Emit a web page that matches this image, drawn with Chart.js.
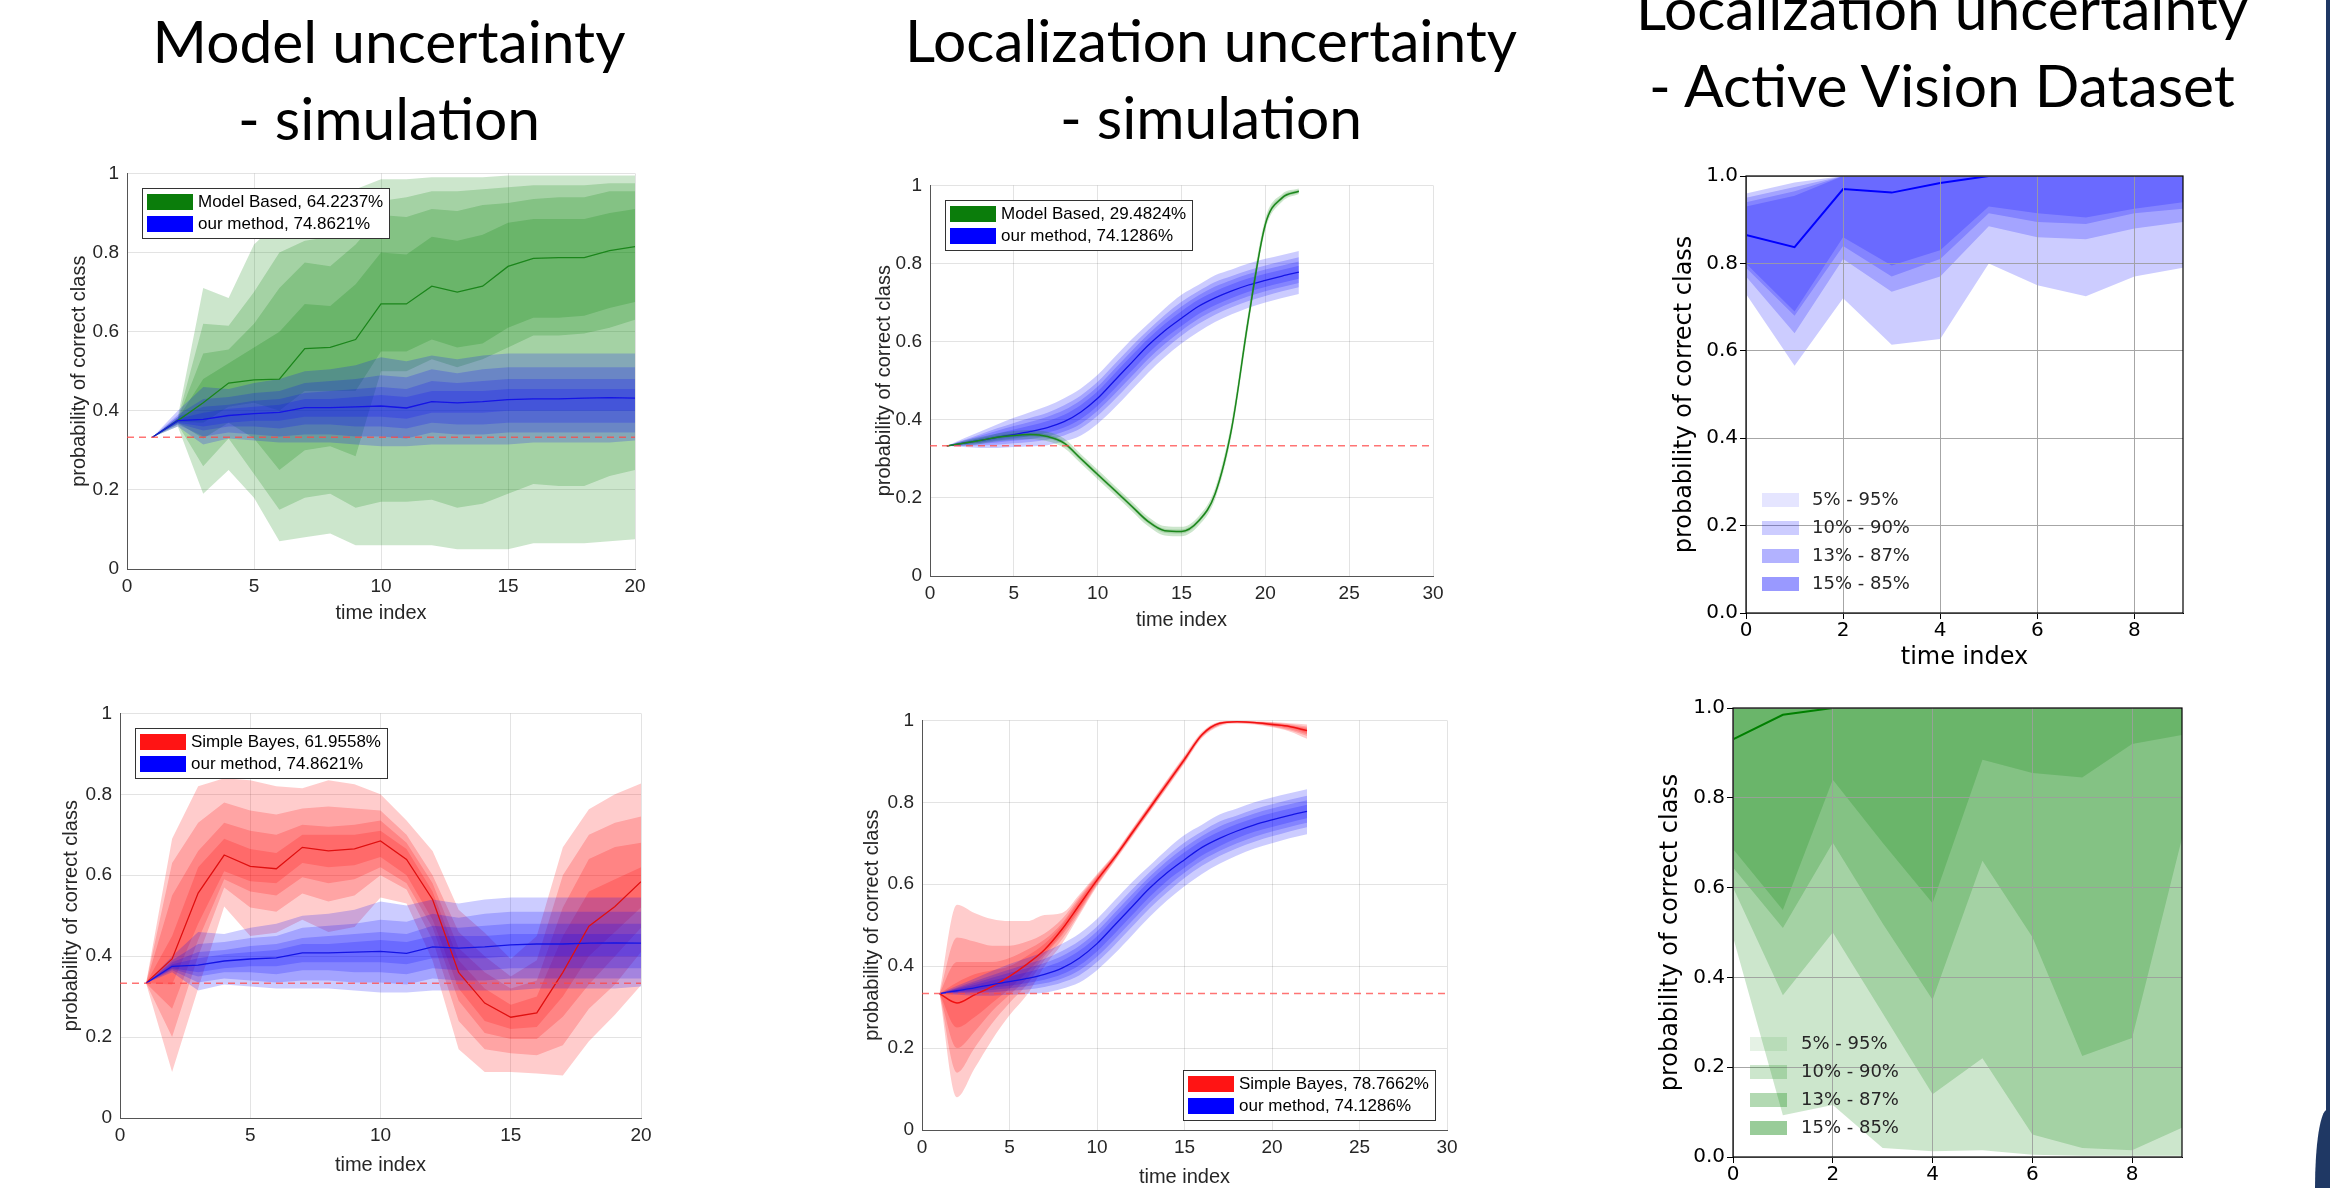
<!DOCTYPE html>
<html lang="en">
<head>
<meta charset="UTF-8">
<title>Uncertainty fan charts</title>
<script src="https://cdn.jsdelivr.net/npm/chart.js"></script>
<style>
  html, body { margin: 0; padding: 0; background: #fff; }
  body { position: relative; width: 2330px; height: 1188px; overflow: hidden; }
  canvas { position: absolute; }
  .ttl { position: absolute; font-family: Lato, 'Liberation Sans', sans-serif; color: #000;
         text-align: center; white-space: nowrap; transform: translateX(-50%); }
  .navy { position: absolute; background: #1f3864; }
</style>
</head>
<body>
<canvas id="c1"></canvas>
<canvas id="c2"></canvas>
<canvas id="c3"></canvas>
<canvas id="c4"></canvas>
<canvas id="c5"></canvas>
<canvas id="c6"></canvas>
<div class="navy" style="left:2326px; top:0; width:4px; height:1188px;"></div>
<div class="navy" style="left:2315px; top:1110px; width:20px; height:90px; border-top-left-radius:12px 78px;"></div>
<script>
// ---- text ----
const panelTitles = [
  ['Model uncertainty', '- simulation'],
  ['Localization uncertainty', '- simulation'],
  ['Localization uncertainty', '- Active Vision Dataset']
];
const legendMu1 = ['Model Based, 64.2237%', 'our method, 74.8621%'];
const legendMu2 = ['Simple Bayes, 61.9558%', 'our method, 74.8621%'];
const legendLoc1 = ['Model Based, 29.4824%', 'our method, 74.1286%'];
const legendLoc2 = ['Simple Bayes, 78.7662%', 'our method, 74.1286%'];
const bandLabels = ['5% - 95%', '10% - 90%', '13% - 87%', '15% - 85%'];

// ---- axes ----
const xTicksMu = [0, 5, 10, 15, 20];
const xTicksLoc = [0, 5, 10, 15, 20, 25, 30];
const xTicksAvd = [0, 2, 4, 6, 8];
const yTicks = [0, 0.2, 0.4, 0.6, 0.8, 1];
const chance = 0.3333;

// ---- time steps ----
const tMu = [1, 2, 3, 4, 5, 6, 7, 8, 9, 10, 11, 12, 13, 14, 15, 16, 17, 18, 19, 20];
const tLoc = [1, 2, 3, 4, 5, 6, 7, 8, 9, 10, 11, 12, 13, 14, 15, 16, 17, 18, 19, 20, 21, 22];
const tAvd = [0, 1, 2, 3, 4, 5, 6, 7, 8, 9];

// ---- model uncertainty: Model Based (green) ----
// band order: 5-95, 10-90, 13-87, 15-85
const mbMuMed = [0.333, 0.375, 0.42, 0.47, 0.478, 0.48, 0.557, 0.56, 0.58, 0.67, 0.67, 0.715, 0.70, 0.715, 0.765, 0.785, 0.787, 0.787, 0.805, 0.815];
const mbMuLo = [
  [0.333, 0.36, 0.19, 0.25, 0.18, 0.07, 0.08, 0.09, 0.06, 0.06, 0.06, 0.06, 0.05, 0.05, 0.05, 0.065, 0.065, 0.065, 0.07, 0.075],
  [0.333, 0.365, 0.26, 0.33, 0.24, 0.15, 0.18, 0.19, 0.155, 0.17, 0.17, 0.175, 0.155, 0.165, 0.19, 0.215, 0.21, 0.21, 0.235, 0.25],
  [0.333, 0.37, 0.33, 0.37, 0.33, 0.25, 0.30, 0.31, 0.285, 0.50, 0.50, 0.53, 0.51, 0.53, 0.56, 0.59, 0.59, 0.595, 0.61, 0.63],
  [0.333, 0.372, 0.37, 0.41, 0.42, 0.40, 0.45, 0.45, 0.45, 0.55, 0.55, 0.58, 0.56, 0.57, 0.61, 0.635, 0.635, 0.64, 0.66, 0.675]
];
const mbMuHi = [
  [0.333, 0.385, 0.71, 0.685, 0.82, 0.88, 0.92, 0.94, 0.96, 0.985, 0.985, 0.99, 0.99, 0.99, 0.995, 0.995, 0.995, 0.995, 0.995, 0.995],
  [0.333, 0.38, 0.62, 0.615, 0.70, 0.80, 0.83, 0.84, 0.88, 0.93, 0.94, 0.955, 0.955, 0.96, 0.965, 0.97, 0.97, 0.97, 0.975, 0.975],
  [0.333, 0.38, 0.545, 0.555, 0.62, 0.71, 0.775, 0.765, 0.82, 0.895, 0.89, 0.91, 0.905, 0.92, 0.925, 0.935, 0.94, 0.94, 0.955, 0.955],
  [0.333, 0.38, 0.48, 0.52, 0.56, 0.60, 0.67, 0.665, 0.72, 0.80, 0.795, 0.84, 0.83, 0.845, 0.875, 0.885, 0.885, 0.885, 0.90, 0.91]
];

// ---- model uncertainty: our method (blue), shared by both left panels ----
const ourMuMed = [0.333, 0.375, 0.378, 0.388, 0.393, 0.396, 0.408, 0.408, 0.41, 0.412, 0.407, 0.423, 0.42, 0.423, 0.428, 0.43, 0.43, 0.432, 0.433, 0.432];
const ourMuLo = [
  [0.333, 0.36, 0.315, 0.33, 0.325, 0.32, 0.32, 0.32, 0.315, 0.31, 0.31, 0.315, 0.315, 0.315, 0.315, 0.32, 0.32, 0.32, 0.32, 0.325],
  [0.333, 0.365, 0.335, 0.345, 0.34, 0.335, 0.34, 0.34, 0.335, 0.335, 0.33, 0.345, 0.34, 0.34, 0.345, 0.345, 0.345, 0.345, 0.345, 0.345],
  [0.333, 0.368, 0.35, 0.36, 0.36, 0.355, 0.365, 0.365, 0.36, 0.36, 0.355, 0.37, 0.365, 0.365, 0.37, 0.37, 0.37, 0.37, 0.37, 0.37],
  [0.333, 0.37, 0.36, 0.37, 0.375, 0.375, 0.385, 0.385, 0.385, 0.385, 0.38, 0.395, 0.395, 0.395, 0.40, 0.40, 0.40, 0.40, 0.40, 0.40]
];
const ourMuHi = [
  [0.333, 0.40, 0.46, 0.455, 0.47, 0.48, 0.50, 0.505, 0.515, 0.535, 0.525, 0.54, 0.53, 0.54, 0.545, 0.545, 0.545, 0.545, 0.545, 0.545],
  [0.333, 0.39, 0.43, 0.435, 0.445, 0.45, 0.47, 0.475, 0.48, 0.49, 0.485, 0.505, 0.495, 0.505, 0.51, 0.51, 0.51, 0.51, 0.51, 0.51],
  [0.333, 0.385, 0.41, 0.415, 0.425, 0.43, 0.445, 0.45, 0.455, 0.46, 0.455, 0.475, 0.47, 0.475, 0.48, 0.48, 0.48, 0.48, 0.48, 0.48],
  [0.333, 0.38, 0.395, 0.405, 0.41, 0.415, 0.43, 0.43, 0.435, 0.44, 0.435, 0.45, 0.45, 0.45, 0.455, 0.455, 0.455, 0.455, 0.455, 0.455]
];

// ---- model uncertainty: Simple Bayes (red) ----
const sbMuMed = [0.334, 0.393, 0.556, 0.65, 0.622, 0.616, 0.669, 0.66, 0.665, 0.685, 0.639, 0.54, 0.36, 0.284, 0.249, 0.26, 0.36, 0.474, 0.523, 0.584];
const sbMuLo = [
  [0.333, 0.114, 0.32, 0.523, 0.45, 0.458, 0.49, 0.46, 0.472, 0.545, 0.53, 0.389, 0.17, 0.114, 0.114, 0.11, 0.105, 0.19, 0.255, 0.328],
  [0.333, 0.20, 0.40, 0.57, 0.52, 0.51, 0.555, 0.535, 0.55, 0.60, 0.565, 0.44, 0.24, 0.17, 0.16, 0.155, 0.18, 0.27, 0.33, 0.41],
  [0.333, 0.27, 0.44, 0.59, 0.56, 0.55, 0.595, 0.58, 0.59, 0.62, 0.58, 0.47, 0.29, 0.21, 0.195, 0.195, 0.25, 0.33, 0.40, 0.47],
  [0.333, 0.33, 0.48, 0.61, 0.585, 0.58, 0.63, 0.62, 0.625, 0.645, 0.60, 0.49, 0.32, 0.24, 0.22, 0.225, 0.30, 0.40, 0.46, 0.52]
];
const sbMuHi = [
  [0.333, 0.69, 0.82, 0.84, 0.835, 0.82, 0.815, 0.835, 0.825, 0.80, 0.735, 0.66, 0.515, 0.458, 0.393, 0.45, 0.669, 0.763, 0.80, 0.827],
  [0.333, 0.63, 0.73, 0.78, 0.76, 0.75, 0.765, 0.77, 0.765, 0.76, 0.70, 0.60, 0.46, 0.40, 0.35, 0.39, 0.60, 0.70, 0.73, 0.745],
  [0.333, 0.55, 0.66, 0.73, 0.71, 0.70, 0.725, 0.72, 0.725, 0.735, 0.68, 0.58, 0.42, 0.36, 0.32, 0.34, 0.52, 0.64, 0.67, 0.68],
  [0.333, 0.45, 0.62, 0.69, 0.665, 0.655, 0.70, 0.70, 0.70, 0.71, 0.665, 0.56, 0.39, 0.32, 0.28, 0.30, 0.45, 0.56, 0.59, 0.62]
];

// ---- localization uncertainty: our method (blue), shared by both middle panels ----
const ourLocMed = [0.333, 0.34, 0.347, 0.355, 0.362, 0.37, 0.38, 0.395, 0.42, 0.455, 0.50, 0.545, 0.59, 0.628, 0.66, 0.69, 0.712, 0.73, 0.745, 0.757, 0.768, 0.778];
const ourLocLo = [
  [0.333, 0.33, 0.328, 0.328, 0.33, 0.332, 0.335, 0.345, 0.36, 0.39, 0.43, 0.475, 0.52, 0.56, 0.595, 0.625, 0.65, 0.67, 0.687, 0.70, 0.712, 0.722],
  [0.333, 0.333, 0.334, 0.336, 0.34, 0.343, 0.349, 0.36, 0.378, 0.41, 0.451, 0.496, 0.541, 0.58, 0.615, 0.645, 0.669, 0.688, 0.704, 0.717, 0.729, 0.739],
  [0.333, 0.335, 0.338, 0.342, 0.346, 0.351, 0.358, 0.37, 0.39, 0.423, 0.465, 0.51, 0.555, 0.594, 0.628, 0.658, 0.681, 0.70, 0.716, 0.729, 0.74, 0.75],
  [0.333, 0.337, 0.341, 0.347, 0.352, 0.359, 0.367, 0.38, 0.402, 0.436, 0.479, 0.524, 0.569, 0.608, 0.64, 0.67, 0.693, 0.712, 0.728, 0.74, 0.751, 0.761]
];
const ourLocHi = [
  [0.333, 0.352, 0.37, 0.388, 0.405, 0.42, 0.435, 0.455, 0.48, 0.515, 0.56, 0.605, 0.645, 0.685, 0.72, 0.745, 0.77, 0.785, 0.80, 0.812, 0.822, 0.832],
  [0.333, 0.348, 0.363, 0.378, 0.392, 0.405, 0.418, 0.437, 0.462, 0.497, 0.542, 0.587, 0.629, 0.668, 0.702, 0.729, 0.753, 0.768, 0.783, 0.795, 0.806, 0.816],
  [0.333, 0.346, 0.359, 0.372, 0.384, 0.395, 0.408, 0.425, 0.45, 0.485, 0.53, 0.575, 0.618, 0.657, 0.69, 0.718, 0.741, 0.758, 0.773, 0.785, 0.795, 0.805],
  [0.333, 0.344, 0.354, 0.365, 0.375, 0.385, 0.397, 0.413, 0.438, 0.473, 0.518, 0.563, 0.607, 0.645, 0.678, 0.707, 0.729, 0.747, 0.762, 0.774, 0.784, 0.794]
];

// ---- localization uncertainty: Model Based (green), narrow bands 5-95 and 15-85 ----
const mbLocMed = [0.333, 0.34, 0.347, 0.355, 0.36, 0.362, 0.357, 0.34, 0.30, 0.26, 0.22, 0.18, 0.14, 0.116, 0.114, 0.14, 0.21, 0.38, 0.66, 0.90, 0.968, 0.985];
const mbLocLo = [
  [0.333, 0.334, 0.338, 0.345, 0.349, 0.35, 0.345, 0.328, 0.288, 0.248, 0.208, 0.168, 0.128, 0.104, 0.102, 0.128, 0.196, 0.362, 0.64, 0.885, 0.958, 0.978],
  [0.333, 0.337, 0.342, 0.35, 0.355, 0.357, 0.352, 0.335, 0.295, 0.255, 0.215, 0.175, 0.135, 0.111, 0.109, 0.135, 0.204, 0.372, 0.65, 0.893, 0.963, 0.981]
];
const mbLocHi = [
  [0.333, 0.346, 0.356, 0.365, 0.371, 0.374, 0.369, 0.352, 0.312, 0.272, 0.232, 0.192, 0.152, 0.128, 0.126, 0.152, 0.224, 0.398, 0.68, 0.915, 0.978, 0.992],
  [0.333, 0.343, 0.352, 0.36, 0.365, 0.367, 0.362, 0.345, 0.305, 0.265, 0.225, 0.185, 0.145, 0.121, 0.119, 0.145, 0.216, 0.388, 0.67, 0.907, 0.973, 0.989]
];

// ---- localization uncertainty: Simple Bayes (red) ----
const sbLocMed = [0.333, 0.31, 0.33, 0.35, 0.375, 0.405, 0.44, 0.49, 0.55, 0.61, 0.665, 0.725, 0.785, 0.845, 0.905, 0.965, 0.993, 0.997, 0.995, 0.99, 0.985, 0.975];
const sbLocLo = [
  [0.333, 0.08, 0.15, 0.22, 0.28, 0.33, 0.40, 0.455, 0.525, 0.595, 0.655, 0.715, 0.775, 0.835, 0.895, 0.957, 0.986, 0.992, 0.99, 0.983, 0.973, 0.955],
  [0.333, 0.14, 0.20, 0.26, 0.31, 0.355, 0.415, 0.465, 0.53, 0.598, 0.657, 0.717, 0.777, 0.837, 0.897, 0.959, 0.988, 0.994, 0.991, 0.985, 0.976, 0.962],
  [0.333, 0.20, 0.24, 0.29, 0.33, 0.37, 0.425, 0.475, 0.535, 0.601, 0.659, 0.719, 0.779, 0.839, 0.899, 0.961, 0.989, 0.995, 0.992, 0.987, 0.979, 0.966],
  [0.333, 0.25, 0.275, 0.31, 0.345, 0.385, 0.43, 0.48, 0.54, 0.604, 0.661, 0.721, 0.781, 0.841, 0.901, 0.963, 0.991, 0.996, 0.993, 0.988, 0.982, 0.97]
];
const sbLocHi = [
  [0.333, 0.55, 0.53, 0.515, 0.51, 0.51, 0.525, 0.53, 0.575, 0.625, 0.675, 0.735, 0.795, 0.855, 0.915, 0.972, 0.997, 0.999, 0.998, 0.996, 0.993, 0.99],
  [0.333, 0.47, 0.46, 0.45, 0.45, 0.46, 0.48, 0.515, 0.57, 0.622, 0.673, 0.733, 0.793, 0.853, 0.912, 0.97, 0.996, 0.999, 0.997, 0.995, 0.991, 0.985],
  [0.333, 0.41, 0.41, 0.41, 0.42, 0.44, 0.465, 0.505, 0.565, 0.619, 0.671, 0.731, 0.791, 0.851, 0.91, 0.968, 0.995, 0.998, 0.996, 0.994, 0.989, 0.982],
  [0.333, 0.36, 0.38, 0.39, 0.40, 0.425, 0.455, 0.50, 0.56, 0.616, 0.669, 0.729, 0.789, 0.849, 0.908, 0.967, 0.994, 0.998, 0.996, 0.993, 0.987, 0.979]
];

// ---- Active Vision Dataset: blue ----
const avdBlueMed = [0.865, 0.837, 0.97, 0.962, 0.984, 1.0, 1.0, 1.0, 1.0, 1.0];
const avdBlueLo = [
  [0.73, 0.566, 0.72, 0.614, 0.627, 0.80, 0.75, 0.725, 0.77, 0.79],
  [0.77, 0.64, 0.81, 0.735, 0.77, 0.885, 0.86, 0.855, 0.88, 0.895],
  [0.79, 0.68, 0.84, 0.77, 0.81, 0.915, 0.895, 0.89, 0.915, 0.925],
  [0.80, 0.69, 0.86, 0.795, 0.83, 0.93, 0.915, 0.905, 0.925, 0.94]
];
const avdBlueHi = [
  [0.96, 0.985, 1, 1, 1, 1, 1, 1, 1, 1],
  [0.95, 0.975, 1, 1, 1, 1, 1, 1, 1, 1],
  [0.94, 0.965, 1, 1, 1, 1, 1, 1, 1, 1],
  [0.93, 0.955, 1, 1, 1, 1, 1, 1, 1, 1]
];

// ---- Active Vision Dataset: green ----
const avdGreenMed = [0.93, 0.985, 1.0, 1.0, 1.0, 1.0, 1.0, 1.0, 1.0, 1.0];
const avdGreenLo = [
  [0.49, 0.093, 0.116, 0.02, 0.013, 0.015, 0.005, 0.003, 0.003, 0.003],
  [0.60, 0.36, 0.50, 0.32, 0.14, 0.22, 0.05, 0.02, 0.015, 0.065],
  [0.645, 0.51, 0.70, 0.52, 0.35, 0.66, 0.49, 0.225, 0.265, 0.71],
  [0.686, 0.55, 0.84, 0.70, 0.565, 0.885, 0.855, 0.845, 0.92, 0.94]
];
const avdGreenHi = [
  [1, 1, 1, 1, 1, 1, 1, 1, 1, 1],
  [1, 1, 1, 1, 1, 1, 1, 1, 1, 1],
  [1, 1, 1, 1, 1, 1, 1, 1, 1, 1],
  [1, 1, 1, 1, 1, 1, 1, 1, 1, 1]
];

// ---------------------------------------------------------------
const GREEN = '0,128,0', BLUE = '0,0,255', RED = '255,0,0';
const mlFont = "'Liberation Sans', Arial, sans-serif";
const mplFont = "'DejaVu Sans', sans-serif";
const titleFont = "Lato, 'Liberation Sans', sans-serif";

function pts(ts, vs) { return ts.map((t, i) => ({ x: t, y: vs[i] })); }

function bands(ts, los, his, rgb, smooth) {
  const out = [];
  const mode = smooth ? 'monotone' : 'default';
  los.forEach((lo, k) => {
    out.push({ data: pts(ts, lo), borderColor: 'rgba(0,0,0,0)', borderWidth: 0, pointRadius: 0, fill: false,
               cubicInterpolationMode: mode });
    out.push({ data: pts(ts, his[k]), borderColor: 'rgba(0,0,0,0)', borderWidth: 0, pointRadius: 0,
               fill: '-1', backgroundColor: 'rgba(' + rgb + ',0.2)', cubicInterpolationMode: mode });
  });
  return out;
}

function median(ts, vs, color, w, smooth) {
  return { data: pts(ts, vs), borderColor: color, borderWidth: w, pointRadius: 0, fill: false,
           cubicInterpolationMode: smooth ? 'monotone' : 'default' };
}

function chanceLine(xMax) {
  return { data: [{ x: 0, y: chance }, { x: xMax, y: chance }], borderColor: 'rgba(255,70,70,0.75)',
           borderWidth: 1.5, borderDash: [7, 5], pointRadius: 0, fill: false };
}

// boxed two-row legend, MATLAB look
function boxLegend(labels, colors, corner) {
  return {
    id: 'boxLegend',
    afterDraw(chart) {
      const { ctx, chartArea: a } = chart;
      ctx.save();
      ctx.font = '17px ' + mlFont;
      const tw = Math.max(...labels.map(s => ctx.measureText(s).width));
      const w = Math.round(5 + 46 + 5 + tw + 6), h = 6 + labels.length * 22;
      const x = Math.round(corner === 'tl' ? a.left + 15 : a.right - 12 - w);
      const y = Math.round(corner === 'tl' ? a.top + 15 : a.bottom - 10 - h);
      ctx.fillStyle = '#fff';
      ctx.fillRect(x, y, w, h);
      ctx.strokeStyle = '#333';
      ctx.lineWidth = 1;
      ctx.strokeRect(x + 0.5, y + 0.5, w, h);
      labels.forEach((s, i) => {
        const cy = y + 3 + 22 * i + 11;
        ctx.fillStyle = colors[i];
        ctx.fillRect(x + 5, cy - 8, 46, 16);
        ctx.fillStyle = '#000';
        ctx.textBaseline = 'middle';
        ctx.fillText(s, x + 56, cy);
      });
      ctx.restore();
    }
  };
}

// frameless legend + grid on top + full frame, matplotlib look
function mplDecor(rgb, dx, tx) {
  return {
    id: 'mplDecor',
    afterDatasetsDraw(chart) {
      const a = chart.chartArea, ctx = chart.ctx;
      chart.scales.x.drawGrid(a);
      chart.scales.y.drawGrid(a);
      ctx.save();
      ctx.strokeStyle = '#000';
      ctx.lineWidth = 1.2;
      ctx.strokeRect(a.left, a.top, a.right - a.left, a.bottom - a.top);
      ctx.font = '18px ' + mplFont;
      ctx.textBaseline = 'middle';
      bandLabels.forEach((s, i) => {
        const cy = a.bottom - 29 - 28 * (3 - i);
        ctx.fillStyle = 'rgba(' + rgb + ',' + (0.1 * (i + 1)).toFixed(1) + ')';
        ctx.fillRect(a.left + dx, cy - 7, 37, 14);
        ctx.fillStyle = '#262626';
        ctx.fillText(s, a.left + tx, cy);
      });
      ctx.restore();
    }
  };
}

function makeChart(id, box, datasets, style, xTicks, xMax, plugins, xTitle) {
  const cv = document.getElementById(id);
  const padTop = 14, padRight = 24;
  const W = box.yW + (box.r - box.l) + padRight;
  const H = padTop + (box.b - box.t) + box.xH;
  cv.width = W; cv.height = H;
  cv.style.width = W + 'px'; cv.style.height = H + 'px';
  cv.style.left = (box.l - box.yW) + 'px';
  cv.style.top = (box.t - padTop) + 'px';

  // first dataset in the list is painted first (bottom)
  datasets.forEach((d, i) => { d.order = datasets.length - i; });

  const ml = style === 'matlab';
  const fam = ml ? mlFont : mplFont;
  const txt = ml ? '#262626' : '#000';
  const gridCol = ml ? 'rgba(38,38,38,0.13)' : 'rgba(165,165,165,0.85)';
  const common = {
    type: 'linear',
    grid: { color: gridCol, lineWidth: 1, drawTicks: !ml, tickLength: 6, tickColor: '#000', tickWidth: 1 },
    border: { color: ml ? '#555' : '#000', width: 1 }
  };

  return new Chart(cv, {
    type: 'line',
    data: { datasets },
    options: {
      responsive: false, animation: false, devicePixelRatio: 1, events: [],
      layout: { padding: { top: padTop, right: padRight, left: 0, bottom: 0 } },
      plugins: { legend: { display: false }, tooltip: { enabled: false } },
      scales: {
        x: Object.assign({}, common, {
          min: 0, max: xMax,
          afterBuildTicks: s => { s.ticks = xTicks.map(v => ({ value: v })); },
          afterFit: s => { s.height = box.xH; },
          ticks: { color: txt, font: { family: fam, size: ml ? 19 : 20 }, padding: ml ? 6 : 0,
                   maxRotation: 0, autoSkip: false },
          title: { display: !!xTitle, text: xTitle || '', color: txt,
                   font: { family: fam, size: ml ? 20 : 24 }, padding: { top: 0, bottom: 4 } }
        }),
        y: Object.assign({}, common, {
          min: 0, max: 1,
          afterBuildTicks: s => { s.ticks = yTicks.map(v => ({ value: v })); },
          afterFit: s => { s.width = box.yW; },
          ticks: { color: txt, font: { family: fam, size: ml ? 19 : 20 }, padding: ml ? 8 : 2,
                   callback: v => ml ? String(+v.toFixed(1)) : v.toFixed(1) },
          title: { display: true, text: 'probability of correct class', color: txt,
                   font: { family: fam, size: ml ? 20 : 24 }, padding: { top: 4, bottom: 4 } }
        })
      }
    },
    plugins
  });
}

// ---- panel 1: model uncertainty, Model Based vs ours ----
makeChart('c1', { l: 127, t: 168, r: 635, b: 569, yW: 64, xH: 60 },
  [].concat(bands(tMu, mbMuLo, mbMuHi, GREEN), bands(tMu, ourMuLo, ourMuHi, BLUE),
            [median(tMu, mbMuMed, '#1b861b', 1.3), median(tMu, ourMuMed, '#1414e6', 1.3), chanceLine(20)]),
  'matlab', xTicksMu, 20, [boxLegend(legendMu1, ['#0b7d0b', '#0000ff'], 'tl')], 'time index');

// ---- panel 4: model uncertainty, Simple Bayes vs ours ----
makeChart('c4', { l: 120, t: 708, r: 641, b: 1118, yW: 65, xH: 63 },
  [].concat(bands(tMu, sbMuLo, sbMuHi, RED), bands(tMu, ourMuLo, ourMuHi, BLUE),
            [median(tMu, sbMuMed, '#e01010', 1.3), median(tMu, ourMuMed, '#1414e6', 1.3), chanceLine(20)]),
  'matlab', xTicksMu, 20, [boxLegend(legendMu2, ['#ff1414', '#0000ff'], 'tl')], 'time index');

// ---- panel 2: localization uncertainty, Model Based vs ours ----
makeChart('c2', { l: 930, t: 180, r: 1433, b: 576, yW: 62, xH: 60 },
  [].concat(bands(tLoc, ourLocLo, ourLocHi, BLUE, true), bands(tLoc, mbLocLo, mbLocHi, GREEN, true),
            [median(tLoc, ourLocMed, '#1414e6', 1.3, true), median(tLoc, mbLocMed, '#1b861b', 1.5, true), chanceLine(30)]),
  'matlab', xTicksLoc, 30, [boxLegend(legendLoc1, ['#0b7d0b', '#0000ff'], 'tl')], 'time index');

// ---- panel 5: localization uncertainty, Simple Bayes vs ours ----
makeChart('c5', { l: 922, t: 715, r: 1447, b: 1130, yW: 66, xH: 63 },
  [].concat(bands(tLoc, sbLocLo, sbLocHi, RED, true), bands(tLoc, ourLocLo, ourLocHi, BLUE, true),
            [median(tLoc, sbLocMed, '#f01010', 1.5, true), median(tLoc, ourLocMed, '#1414e6', 1.3, true), chanceLine(30)]),
  'matlab', xTicksLoc, 30, [boxLegend(legendLoc2, ['#ff1414', '#0000ff'], 'br')], 'time index');

// ---- panel 3: Active Vision Dataset, blue ----
makeChart('c3', { l: 1746, t: 176, r: 2183, b: 613, yW: 80, xH: 63 },
  [].concat(bands(tAvd, avdBlueLo, avdBlueHi, BLUE), [median(tAvd, avdBlueMed, '#0000ff', 2)]),
  'mpl', xTicksAvd, 9, [mplDecor(BLUE, 16, 66)], 'time index');

// ---- panel 6: Active Vision Dataset, green (x title falls below the page) ----
makeChart('c6', { l: 1733, t: 708, r: 2182, b: 1157, yW: 81, xH: 40 },
  [].concat(bands(tAvd, avdGreenLo, avdGreenHi, GREEN), [median(tAvd, avdGreenMed, '#008000', 2)]),
  'mpl', xTicksAvd, 9, [mplDecor(GREEN, 17, 68)], null);

// ---- panel titles ----
const mctx = document.createElement('canvas').getContext('2d');
mctx.font = '100px ' + titleFont;
const titleSize = 100 * 612 / mctx.measureText('Localization uncertainty').width;
const lineH = 77;
const titleCx = [389, 1211, 1942];
const titleBase = [63, 62, 30];
panelTitles.forEach((lines, i) => {
  const d = document.createElement('div');
  d.className = 'ttl';
  d.style.fontSize = titleSize.toFixed(1) + 'px';
  d.style.lineHeight = lineH + 'px';
  d.style.left = titleCx[i] + 'px';
  const topOff = (lineH - 1.2 * titleSize) / 2 + 0.987 * titleSize;
  d.style.top = (titleBase[i] - topOff).toFixed(1) + 'px';
  lines.forEach(s => { const l = document.createElement('div'); l.textContent = s; d.appendChild(l); });
  document.body.appendChild(d);
});
</script>
</body>
</html>
